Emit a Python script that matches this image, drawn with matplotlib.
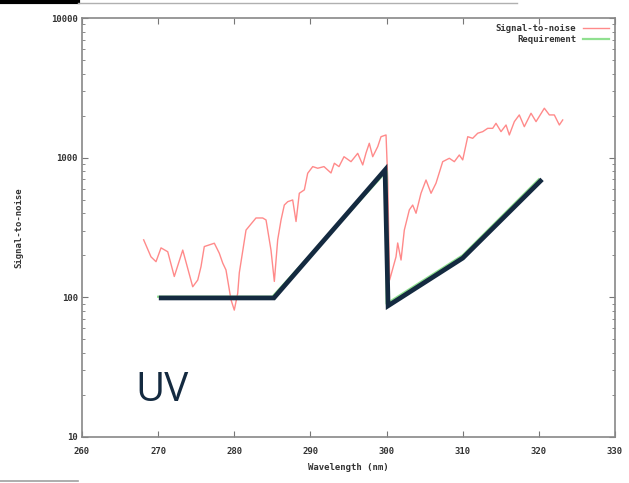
import numpy as np
import matplotlib
matplotlib.use("Agg")
import matplotlib.pyplot as plt
from matplotlib.ticker import LogLocator, FixedLocator, NullFormatter
from matplotlib.lines import Line2D

# Signal-to-noise spectrum
snr_wl = [268.1, 269.06, 269.72, 270.38, 271.26, 272.12, 273.23, 274.54, 275.2, 275.63,
          276.06, 277.38, 278.03, 278.48, 278.91, 279.57, 280.0, 280.45, 280.66, 281.54,
          282.85, 283.73, 284.17, 284.82, 285.26, 285.7, 286.14, 286.57, 287.02, 287.67,
          288.11, 288.54, 289.2, 289.64, 290.3, 290.96, 291.78, 292.7, 293.14, 293.75,
          294.41, 295.33, 296.21, 296.87, 297.3, 297.73, 298.18, 298.84, 299.27, 299.93,
          300.15, 300.4, 301.24, 301.46, 301.9, 302.33, 302.99, 303.43, 303.87, 304.52,
          305.18, 305.84, 306.49, 307.37, 308.24, 308.9, 309.55, 310.0, 310.66, 311.31,
          311.97, 312.63, 313.28, 313.94, 314.37, 315.03, 315.69, 316.12, 316.78, 317.43,
          318.09, 318.97, 319.63, 320.72, 321.38, 322.03, 322.69, 323.13]
snr_val = [258, 195, 180, 226, 212, 141, 218, 119, 133, 166,
           231, 244, 207, 176, 157, 96, 81, 107, 150, 303,
           370, 370, 358, 218, 130, 258, 358, 458, 484, 498,
           349, 556, 588, 773, 863, 840, 863, 777, 912, 863,
           1016, 936, 1074, 887, 1080, 1268, 1016, 1200, 1413, 1454,
           700, 133, 195, 245, 185, 303, 423, 458, 400, 556,
           692, 556, 656, 936, 990, 936, 1045, 964, 1413, 1376,
           1496, 1536, 1622, 1622, 1762, 1536, 1714, 1454, 1811, 2023,
           1667, 2080, 1811, 2259, 2023, 2023, 1714, 1862]

# Requirement curve
req_wl = [270, 285, 300, 300, 310, 320]
req_val = [101, 101, 800, 90, 200, 700]

# Hand-drawn overlay line
over_wl = [270.4, 285.2, 299.8, 300.2, 310.0, 320.2]
over_val = [99, 99, 817, 87, 191, 680]

xticks = [260, 270, 280, 290, 300, 310, 320, 330]
yticks = [10, 100, 1000, 10000]

plt.rcParams['font.family'] = ['DejaVu Sans Mono']

fig = plt.figure(figsize=(6.29, 4.83), dpi=100)
ax = fig.add_axes([82/629, 1-437/483, (615-82)/629, (437-18)/483])

ax.plot(snr_wl, snr_val, color='#ff8a8a', lw=1.0, label='Signal-to-noise')
ax.plot(req_wl, req_val, color='#90e090', lw=1.6, label='Requirement')
ax.plot(over_wl, over_val, color='#142a40', lw=3.4, solid_joinstyle='miter', zorder=5)

ax.set_yscale('log')
ax.set_xlim(260, 330)
ax.set_ylim(10, 10000)
ax.xaxis.set_major_locator(FixedLocator(xticks))
ax.set_xticklabels([str(t) for t in xticks])
ax.yaxis.set_major_locator(FixedLocator(yticks))
ax.set_yticklabels([str(t) for t in yticks])
ax.yaxis.set_minor_locator(LogLocator(base=10, subs=np.arange(2, 10)))
ax.yaxis.set_minor_formatter(NullFormatter())

for lab in ax.get_xticklabels() + ax.get_yticklabels():
    lab.set_fontweight('bold')
    lab.set_fontsize(6.5)
    lab.set_color('#333333')

ax.tick_params(which='both', direction='in', top=True, right=True, color='#777777')
ax.tick_params(which='major', length=4, width=0.8, pad=3)
ax.tick_params(axis='x', which='major', pad=7)
ax.tick_params(which='minor', length=2, width=0.6)
for s in ax.spines.values():
    s.set_color('#888888')
    s.set_linewidth(1.2)

ax.set_xlabel('Wavelength (nm)', fontsize=6.5, fontweight='bold', color='#333333', labelpad=5)
ax.set_ylabel('Signal-to-noise', fontsize=6.5, fontweight='bold', color='#333333', labelpad=20)

leg = ax.legend(loc='upper right', frameon=False, fontsize=6.5, handlelength=2.8,
                handletextpad=0.8, markerfirst=False, borderaxespad=0.3, labelspacing=0.2)
for t in leg.get_texts():
    t.set_fontweight('bold')
    t.set_color('#333333')

fig.text(135/629, 1-401/483, 'UV', fontsize=29, color='#142a40',
         family=['Open Sans', 'DejaVu Sans'], ha='left', va='baseline')

# frame decorations at top and bottom edges
fig.add_artist(Line2D([0, 78/629], [1-1.5/483, 1-1.5/483], color='black', lw=3))
fig.add_artist(Line2D([78/629, 517/629], [1-3/483, 1-3/483], color='#b0b0b0', lw=1))
fig.add_artist(Line2D([0, 78/629], [2/483, 2/483], color='#a0a0a0', lw=1.2))

fig.savefig('out.png', dpi=100)
